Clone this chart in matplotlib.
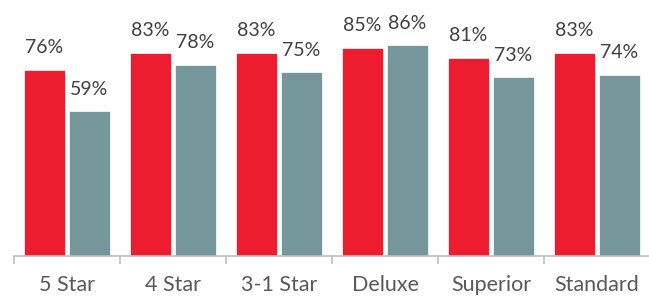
import numpy as np
import matplotlib.pyplot as plt

categories = ["5 Star", "4 Star", "3-1 Star", "Deluxe", "Superior", "Standard"]
red_vals = [76, 83, 83, 85, 81, 83]
grey_vals = [59, 78, 75, 86, 73, 74]

red = "#ED1C2E"
grey = "#75969A"
text_col = "#404040"

plt.rcParams['font.family'] = ['Lato', 'DejaVu Sans']

fig = plt.figure(figsize=(6.49, 2.97), dpi=100)
ax = fig.add_axes([14 / 649, 41 / 297, 636 / 649, 256 / 297])

x = np.arange(len(categories))
w = 0.39
off = 0.212
b1 = ax.bar(x - off, red_vals, w, color=red, edgecolor="white", linewidth=0.5)
b2 = ax.bar(x + off, grey_vals, w, color=grey, edgecolor="white", linewidth=0.5)

for bars, vals in ((b1, red_vals), (b2, grey_vals)):
    for b, v in zip(bars, vals):
        ax.annotate("%d%%" % v, (b.get_x() + b.get_width() / 2, v),
                    xytext=(0, 12), textcoords="offset points",
                    ha="center", va="baseline", fontsize=14, color=text_col)

ax.set_xlim(-0.5, len(categories) - 0.5)
ax.set_ylim(0, 104.5)

for s in ["top", "right", "left"]:
    ax.spines[s].set_visible(False)
ax.spines["bottom"].set_color("#BFBFBF")
ax.spines["bottom"].set_linewidth(1.2)

ax.set_yticks([])
ax.set_xticks(x)
ax.set_xticklabels(categories, fontsize=15.5, color="#595959")
ax.tick_params(axis="x", which="major", length=0, pad=14)
ax.set_xticks(np.arange(-0.5, len(categories)), minor=True)
ax.tick_params(axis="x", which="minor", length=6, width=1.2, color="#BFBFBF")

fig.savefig("out.png", dpi=100)
